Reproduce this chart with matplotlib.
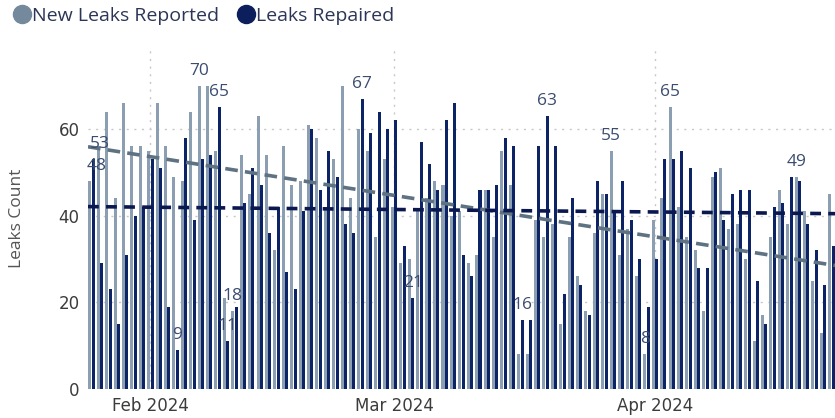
import numpy as np
import pandas as pd
import matplotlib
matplotlib.use("Agg")
import matplotlib.pyplot as plt
import matplotlib.dates as mdates
from matplotlib.lines import Line2D

# daily values, Jan 25 - Apr 22 2024
start_date = "2024-01-25"
new_leaks = [48, 56, 64, 44, 66, 56, 56, 55, 66, 56,
             49, 48, 64, 70, 70, 55, 21, 18, 54, 45,
             63, 54, 32, 56, 47, 48, 61, 58, 42, 53,
             70, 44, 60, 55, 35, 53, 42, 29, 30, 41,
             44, 48, 47, 40, 41, 29, 31, 46, 35, 55,
             47, 8, 8, 39, 35, 38, 15, 35, 26, 18,
             36, 45, 55, 31, 37, 26, 8, 39, 44, 65,
             42, 35, 32, 18, 49, 51, 37, 38, 30, 11,
             17, 35, 46, 38, 49, 41, 25, 13, 45]
repaired = [53, 29, 23, 15, 31, 40, 42, 53, 51, 19,
            9, 58, 39, 53, 54, 65, 11, 19, 43, 51,
            47, 36, 42, 27, 23, 41, 60, 46, 55, 49,
            38, 36, 67, 59, 64, 60, 62, 33, 21, 57,
            52, 46, 62, 66, 31, 26, 46, 46, 47, 58,
            56, 16, 16, 56, 63, 56, 22, 44, 24, 17,
            48, 45, 41, 48, 39, 30, 19, 30, 53, 53,
            55, 51, 28, 28, 50, 39, 45, 46, 46, 25,
            15, 42, 43, 49, 48, 38, 32, 24, 33]

# (day index, series, shown value)
labels = [(0, "rep", 53), (0, "new", 48), (10, "rep", 9), (13, "new", 70),
          (15, "rep", 65), (16, "rep", 11), (17, "new", 18), (32, "rep", 67),
          (38, "rep", 21), (51, "rep", 16), (54, "rep", 63), (62, "new", 55),
          (66, "new", 8), (69, "new", 65), (84, "new", 49)]

grey = "#8c9fb2"
navy = "#0c2366"
label_col = "#3b4c70"

dates = pd.date_range(start_date, periods=len(new_leaks))
x = mdates.date2num(dates)

fig = plt.figure(figsize=(8.35, 4.18), dpi=100)
ax = fig.add_axes([88 / 835, 29 / 418, 747 / 835, 341 / 418])

off = 0.2
w = 0.36
ax.bar(x - off, new_leaks, width=w, color=grey, zorder=2)
ax.bar(x + off, repaired, width=w, color=navy, zorder=2)

# trend lines
xl = (x[0] - 0.42, x[-1] + 0.42)
for vals, col, dash in [(new_leaks, "#5e7282", (3.5, 2)), (repaired, "#0b1850", (3, 2))]:
    p = np.polyfit(x, vals, 1)
    xx = np.array(xl)
    ax.plot(xx, np.polyval(p, xx), color=col, lw=2.6, dashes=dash, zorder=3)

for k, s, v in labels:
    xpos = x[k] - off if s == "new" else x[k] + off
    dx = 5 if k == 0 else 0
    ax.annotate(str(v), (xpos, v), xytext=(dx, 5), textcoords="offset points",
                ha="center", va="bottom", fontsize=12.5, color=label_col,
                family="Open Sans", zorder=4)

ax.set_xlim(*xl)
ax.set_ylim(0, 78.7)
ax.set_yticks([0, 20, 40, 60])
ax.xaxis.set_major_locator(mdates.MonthLocator())
ax.xaxis.set_major_formatter(mdates.DateFormatter("%b %Y"))
ax.grid(axis="y", color="#c8c8c8", ls=(0, (1.5, 4)), lw=1, zorder=0)
ax.grid(axis="x", color="#c8c8c8", ls=(0, (1.5, 4)), lw=1, zorder=0)
for sp in ax.spines.values():
    sp.set_visible(False)
ax.tick_params(length=0, labelsize=12, labelcolor="#3c3c3c", pad=6)
for t in ax.get_xticklabels() + ax.get_yticklabels():
    t.set_family(["Liberation Sans Narrow", "DejaVu Sans"])
ax.set_ylabel("Leaks Count", fontsize=12.5, color="#555555", family="Open Sans", labelpad=24)

handles = [Line2D([], [], ls="", marker="o", ms=13, color="#74899b"),
           Line2D([], [], ls="", marker="o", ms=13, color="#0c1f5c")]
fig.legend(handles, ["New Leaks Reported", "Leaks Repaired"], loc="upper left",
           bbox_to_anchor=(0.003, 1.012), ncol=2, frameon=False, handlelength=0.8,
           handletextpad=0.1, columnspacing=1.0, borderaxespad=0.2,
           prop={"family": "Open Sans", "size": 14}, labelcolor="#2b3656")

fig.savefig("out.png", dpi=100)
